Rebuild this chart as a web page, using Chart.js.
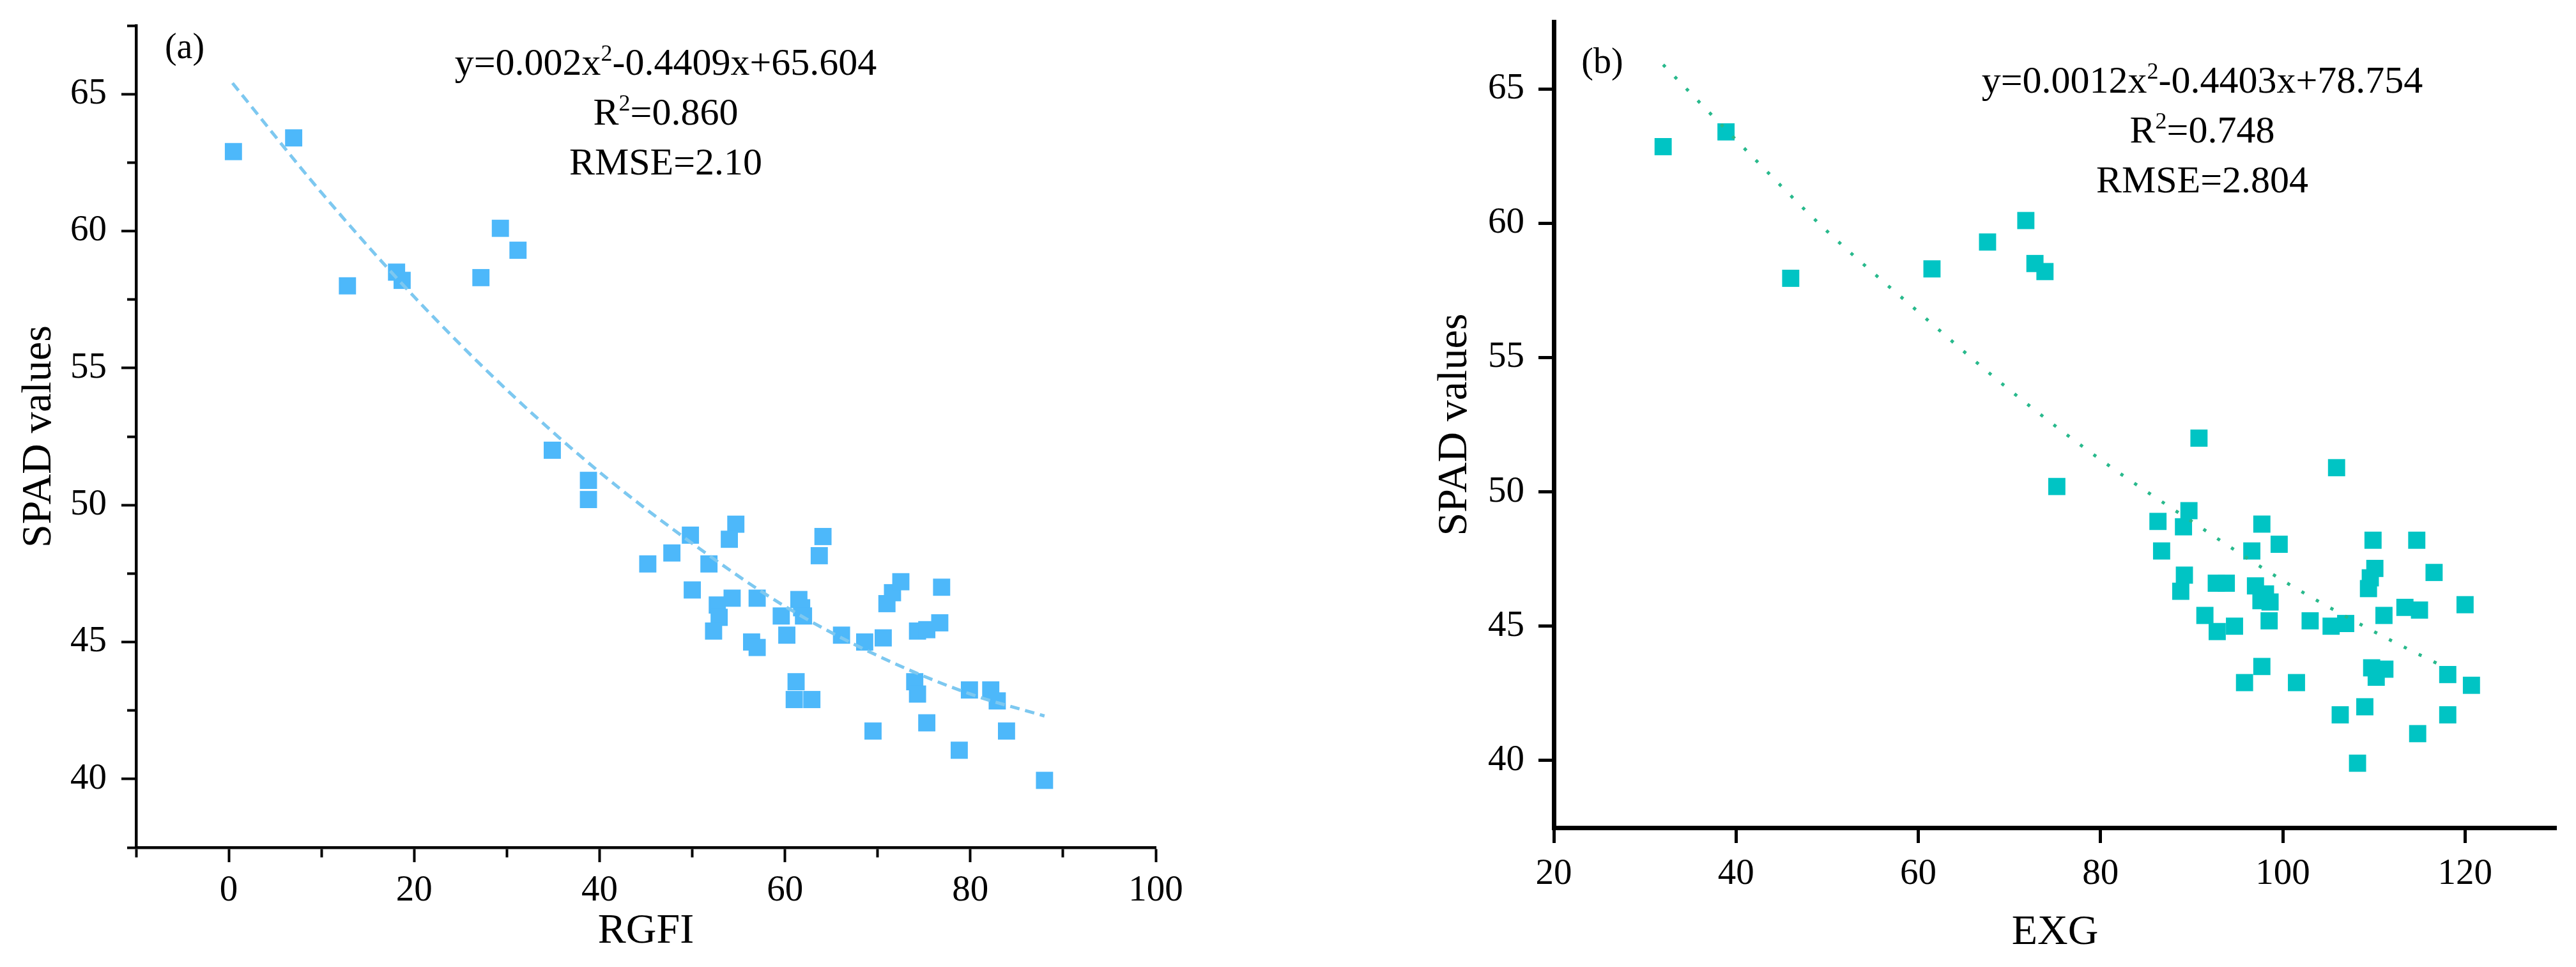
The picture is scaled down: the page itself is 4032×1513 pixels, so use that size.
<!DOCTYPE html>
<html>
<head>
<meta charset="utf-8">
<script src="https://cdn.jsdelivr.net/npm/chart.js@4.4.1/dist/chart.umd.min.js"></script>
<style>
html,body{margin:0;padding:0;background:#fff;}
#wrap{position:relative;width:4032px;height:1513px;overflow:hidden;background:#fff;}
canvas{position:absolute;top:0;}
.ann{position:absolute;font-family:'Liberation Serif','Times New Roman',serif;color:#000;white-space:nowrap;text-align:center;}
.ann div{height:78px;line-height:78px;}
.lab{position:absolute;font-family:'Liberation Serif','Times New Roman',serif;color:#000;line-height:1;transform:translate(-50%,-50%);white-space:nowrap;}
sup{font-size:0.6em;line-height:0;vertical-align:0.62em;}
</style>
</head>
<body>
<div id="wrap">
<canvas id="cA" width="2000" height="1513" style="left:0px"></canvas>
<canvas id="cB" width="2032" height="1513" style="left:2000px"></canvas>
<div class="lab" style="left:289px;top:72px;font-size:56px">(a)</div>
<div class="lab" style="left:2508px;top:95px;font-size:56px">(b)</div>
<div class="ann" style="left:542px;top:58px;width:1000px;font-size:60px">
  <div>y=0.002x<sup>2</sup>-0.4409x+65.604</div>
  <div>R<sup>2</sup>=0.860</div>
  <div>RMSE=2.10</div>
</div>
<div class="ann" style="left:2947px;top:86px;width:1000px;font-size:60px">
  <div>y=0.0012x<sup>2</sup>-0.4403x+78.754</div>
  <div>R<sup>2</sup>=0.748</div>
  <div>RMSE=2.804</div>
</div>
</div>
<script>
// ---------- Panel (a): RGFI vs SPAD ----------
const rgfiValues = [0.5,7.0,12.8,18.1,18.7,27.2,29.3,31.2,34.9,38.8,38.8,45.2,47.8,49.8,51.8,50.0,54.7,54.0,54.3,52.7,52.9,52.3,57.0,56.4,57.0,59.6,60.2,61.5,61.8,62.0,64.1,63.7,66.1,61.2,61.0,62.9,68.6,70.6,71.0,71.6,72.5,76.9,74.3,75.3,76.7,74.0,74.3,79.9,82.2,82.9,69.5,75.3,83.9,78.8,88.0];
const spadA = [62.9,63.4,58.0,58.5,58.2,58.3,60.1,59.3,52.0,50.9,50.2,47.85,48.25,48.9,47.85,46.9,49.3,48.75,46.6,46.35,45.9,45.4,46.6,45.0,44.8,45.95,45.25,46.55,46.25,45.95,48.85,48.15,45.25,43.55,42.9,42.9,45.0,45.15,46.4,46.8,47.2,47.0,45.4,45.45,45.7,43.55,43.1,43.25,43.25,42.85,41.75,42.05,41.75,41.05,39.95];
const fitAX = [0.4,10,20,30,40,50,60,70,80,88];
const fitAY = [65.4,61.4,57.6,54.2,51.2,48.6,46.3,44.5,43.1,42.3];
const xMajorA = [0,20,40,60,80,100];
const xMinorA = [-10,10,30,50,70,90];
const yMajorA = [40,45,50,55,60,65];
const yMinorA = [37.5,42.5,47.5,52.5,57.5,62.5,67.5];

// ---------- Panel (b): EXG vs SPAD ----------
const exgValues = [32.0,38.9,46.0,61.5,67.6,71.8,72.8,73.9,75.2,90.8,105.9,86.3,89.7,89.1,86.7,97.7,99.6,96.6,109.9,114.7,116.6,110.1,109.6,109.4,89.2,88.8,92.7,93.8,97.0,98.1,98.6,97.6,98.5,91.45,92.8,94.7,103.0,105.3,106.9,111.1,113.4,115.0,120.0,97.7,95.8,101.5,109.75,111.2,110.25,118.1,120.7,109.0,106.3,118.1,114.8,108.2];
const spadB = [62.85,63.4,57.95,58.3,59.3,60.1,58.5,58.2,50.2,52.0,50.9,48.9,49.3,48.7,47.8,48.8,48.05,47.8,48.2,48.2,47.0,47.15,46.8,46.4,46.9,46.3,46.6,46.6,46.5,46.2,45.9,45.95,45.2,45.4,44.8,45.0,45.2,45.0,45.1,45.4,45.7,45.6,45.8,43.5,42.9,42.9,43.45,43.4,43.1,43.2,42.8,42.0,41.7,41.7,41.0,39.9];
const fitBX = [32,40,50,60,70,80,90,100,110,117];
const fitBY = [65.9,63.1,59.7,56.7,53.8,51.2,48.9,46.7,44.8,43.6];
const xMajorB = [20,40,60,80,100,120];
const yMajorB = [40,45,50,55,60,65];

const toPts = (xs, ys) => xs.map((x, i) => ({x: x, y: ys[i]}));

Chart.defaults.font.family = "'Liberation Serif','Times New Roman',serif";
Chart.defaults.color = '#000';

function axis(opts) {
  const all = opts.major.concat(opts.minor || []).sort((a, b) => a - b);
  const isMinor = v => !opts.major.includes(v);
  return {
    type: 'linear',
    position: opts.position,
    min: opts.min, max: opts.max,
    afterBuildTicks: s => { s.ticks = all.map(v => ({value: v})); },
    afterFit: s => {
      if (opts.position === 'left') s.width = opts.size; else s.height = opts.size;
      s.paddingTop = 0; s.paddingBottom = 0; s.paddingLeft = 0; s.paddingRight = 0;
    },
    border: {display: true, color: '#000', width: opts.bw},
    grid: {
      display: true, drawOnChartArea: false, drawTicks: true,
      tickLength: opts.tl, tickWidth: opts.tw, tickColor: '#000',
      tickBorderDash: c => (c.tick && isMinor(c.tick.value)) ? opts.minorDash : []
    },
    ticks: {
      autoSkip: false, maxRotation: 0, minRotation: 0,
      padding: opts.tp, font: {size: 57}, color: '#000',
      callback: v => opts.major.includes(v) ? String(v) : ''
    },
    title: {display: true, text: opts.title, font: {size: 66}, color: '#000', padding: opts.titlePad}
  };
}

function makeChart(id, pts, fit, ptColor, lineColor, dash, scales, padding) {
  return new Chart(document.getElementById(id), {
    type: 'scatter',
    data: {
      datasets: [
        {data: fit, showLine: true, pointRadius: 0, borderColor: lineColor, borderWidth: 5,
         borderDash: dash, borderCapStyle: 'butt', cubicInterpolationMode: 'monotone', fill: false},
        {data: pts, pointStyle: 'rect', pointRadius: 19, pointHoverRadius: 19,
         backgroundColor: ptColor, borderWidth: 0, showLine: false}
      ]
    },
    options: {
      responsive: false, animation: false, devicePixelRatio: 1,
      layout: {padding: padding},
      plugins: {legend: {display: false}, tooltip: {enabled: false}},
      scales: scales
    }
  });
}

makeChart('cA', toPts(rgfiValues, spadA), toPts(fitAX, fitAY),
  'rgb(77,184,250)', 'rgb(125,200,240)', [15, 9],
  {
    x: axis({position: 'bottom', min: -10, max: 100, major: xMajorA, minor: xMinorA, size: 187,
             bw: 4.5, tl: 23, tw: 4, tp: 11, minorDash: [13, 60], title: 'RGFI', titlePad: {top: 0, bottom: 16}}),
    y: axis({position: 'left', min: 37.5, max: 67.5, major: yMajorA, minor: yMinorA, size: 213,
             bw: 4.5, tl: 23, tw: 4, tp: 23, minorDash: [0, 9, 60, 0], title: 'SPAD values', titlePad: {top: 22, bottom: 0}})
  },
  {top: 40, right: 191, bottom: 0, left: 0});

makeChart('cB', toPts(exgValues, spadB), toPts(fitBX, fitBY),
  'rgb(0,196,196)', 'rgb(40,185,140)', [5, 21],
  {
    x: axis({position: 'bottom', min: 20, max: 130, major: xMajorB, size: 218,
             bw: 7, tl: 24, tw: 5, tp: 15, minorDash: [], title: 'EXG', titlePad: {top: 0, bottom: 14}}),
    y: axis({position: 'left', min: 37.5, max: 67.5, major: yMajorB, size: 232,
             bw: 7, tl: 24, tw: 5, tp: 22, minorDash: [], title: 'SPAD values', titlePad: {top: 38, bottom: 0}})
  },
  {top: 34, right: 31, bottom: 0, left: 200});
</script>
</body>
</html>
